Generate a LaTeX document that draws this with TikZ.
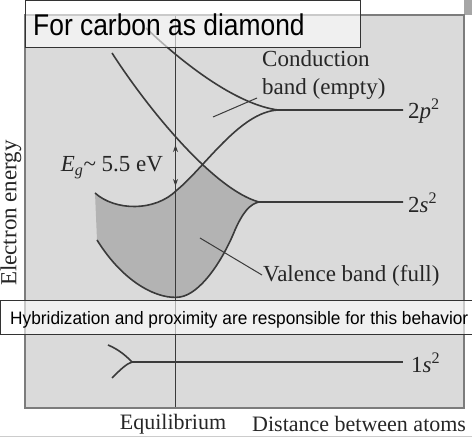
\documentclass[tikz,border=0pt]{standalone}
\usepackage{fontspec}
\setmainfont{Liberation Serif}
\newfontfamily\sansfont{Liberation Sans}
\usepackage{graphicx}
\usepackage{tikz}
\usetikzlibrary{arrows.meta,positioning,calc}
\definecolor{plotbg}{HTML}{DADADA}
\definecolor{bandfill}{HTML}{B3B3B3}
\definecolor{curvecol}{HTML}{3A3A3A}
\definecolor{framecol}{HTML}{7C7C7C}

\begin{document}
\begin{tikzpicture}[x=1pt, y=-1pt,
	curve/.style={draw=curvecol, line width=1.6pt},
	pointer/.style={draw=curvecol, line width=1pt},
	lbl/.style={font=\fontsize{23}{28}\selectfont, text=black!85, inner sep=0pt},
	notebox/.style={draw=black!80, line width=0.8pt, fill=white, fill opacity=0.6},
	arr/.style={{Stealth[length=7pt,width=5pt]}-{Stealth[length=7pt,width=5pt]}, line width=0.9pt, draw=curvecol}]
	\useasboundingbox (0,0) rectangle (472,438);
	\fill[plotbg] (25,15) rectangle (464,408);
	\fill[black!35] (464,0) rectangle (472,15);
	\draw[black!20, line width=1pt] (0,437) -- (472,437);
	\coordinate (j2p) at (278,110);
	\coordinate (j2s) at (259,202);
	\coordinate (j1s) at (132,362);
	\coordinate (eqtop) at (175.5,15);
	\coordinate (eqbot) at (175.5,408);
	\coordinate (gaptop) at (175.5,145);
	\coordinate (gapbot) at (175.5,186);
	\coordinate (condpt) at (213,117);
	\coordinate (condend) at (257,98);
	\coordinate (valpt) at (200,238);
	\coordinate (valend) at (262,275);
	\begin{scope}
		\clip (95,193) .. controls (115,211) and (155,212) .. (177,190) .. controls (205,167) and (240,112) .. (j2p) -- (300,110) -- (300,420) -- (95,420) -- cycle;
		\clip (112,53) .. controls (150,112) and (215,190) .. (j2s) -- (300,202) -- (300,420) -- (60,420) -- (60,53) -- cycle;
		\fill[bandfill] (95,193) -- (97,240) .. controls (125,285) and (160,300) .. (180,297) .. controls (200,294) and (222,262) .. (235,230) .. controls (243,212) and (250,204) .. (j2s) -- (259,100) -- (95,100) -- cycle;
	\end{scope}
	\draw[curve] (146,28) .. controls (190,70) and (240,105) .. (j2p) -- (403,110);
	\draw[curve] (95,193) .. controls (115,211) and (155,212) .. (177,190) .. controls (205,167) and (240,112) .. (j2p);
	\draw[curve] (112,53) .. controls (150,112) and (215,190) .. (j2s) -- (403,202);
	\draw[curve] (97,240) .. controls (125,285) and (160,300) .. (180,297) .. controls (200,294) and (222,262) .. (235,230) .. controls (243,212) and (250,204) .. (j2s);
	\draw[curve] (j1s) -- (403,362);
	\draw[curve] (108,345) .. controls (120,350) and (127,357) .. (j1s);
	\draw[curve] (112,378) .. controls (120,370) and (126,364) .. (j1s);
	\draw[curvecol, line width=1pt] (eqtop) -- (eqbot);
	\draw[arr] (gaptop) -- (gapbot);
	\draw[pointer] (condpt) -- (condend);
	\draw[pointer] (valpt) -- (valend);
	\node[lbl, anchor=west, align=left] (cond) at (262,75) {Conduction\\band (empty)};
	\node[lbl, anchor=west] (val) at (263,276) {Valence band (full)};
	\node[lbl, anchor=west] (l2p) at (408,111) {2\textit{p}\textsuperscript{2}};
	\node[lbl, anchor=west] (l2s) at (408,203) {2\textit{s}\textsuperscript{2}};
	\node[lbl, anchor=west] (l1s) at (411,363) {1\textit{s}\textsuperscript{2}};
	\node[lbl] (gap) at (112,168) {\textit{E}\textsubscript{\textit{g}}\textasciitilde{} 5.5 eV};
	\node[lbl, rotate=90] (ylab) at (11,213) {Electron energy};
	\node[lbl, font=\fontsize{22}{26}\selectfont] (eq) at (173,424) {Equilibrium};
	\node[lbl, font=\fontsize{22}{26}\selectfont, anchor=west] (dist) at (252,424) {Distance between atoms};
	\draw[framecol, line width=1.5pt] (25,15) rectangle (464,408);
	\draw[notebox] (25,0) rectangle (360,47);
	\draw[notebox] (0.5,300) rectangle (480,334);
	\node[anchor=west, inner sep=0pt, font=\sansfont\fontsize{30}{30}\selectfont] (title) at (33,25) {\scalebox{0.88}[1]{For carbon as diamond}};
	\node[anchor=west, inner sep=0pt, font=\sansfont\fontsize{18}{18}\selectfont] (hybrid) at (10,320) {\scalebox{0.96}[1]{Hybridization and proximity are responsible for this behavior}};
\end{tikzpicture}
\end{document}
